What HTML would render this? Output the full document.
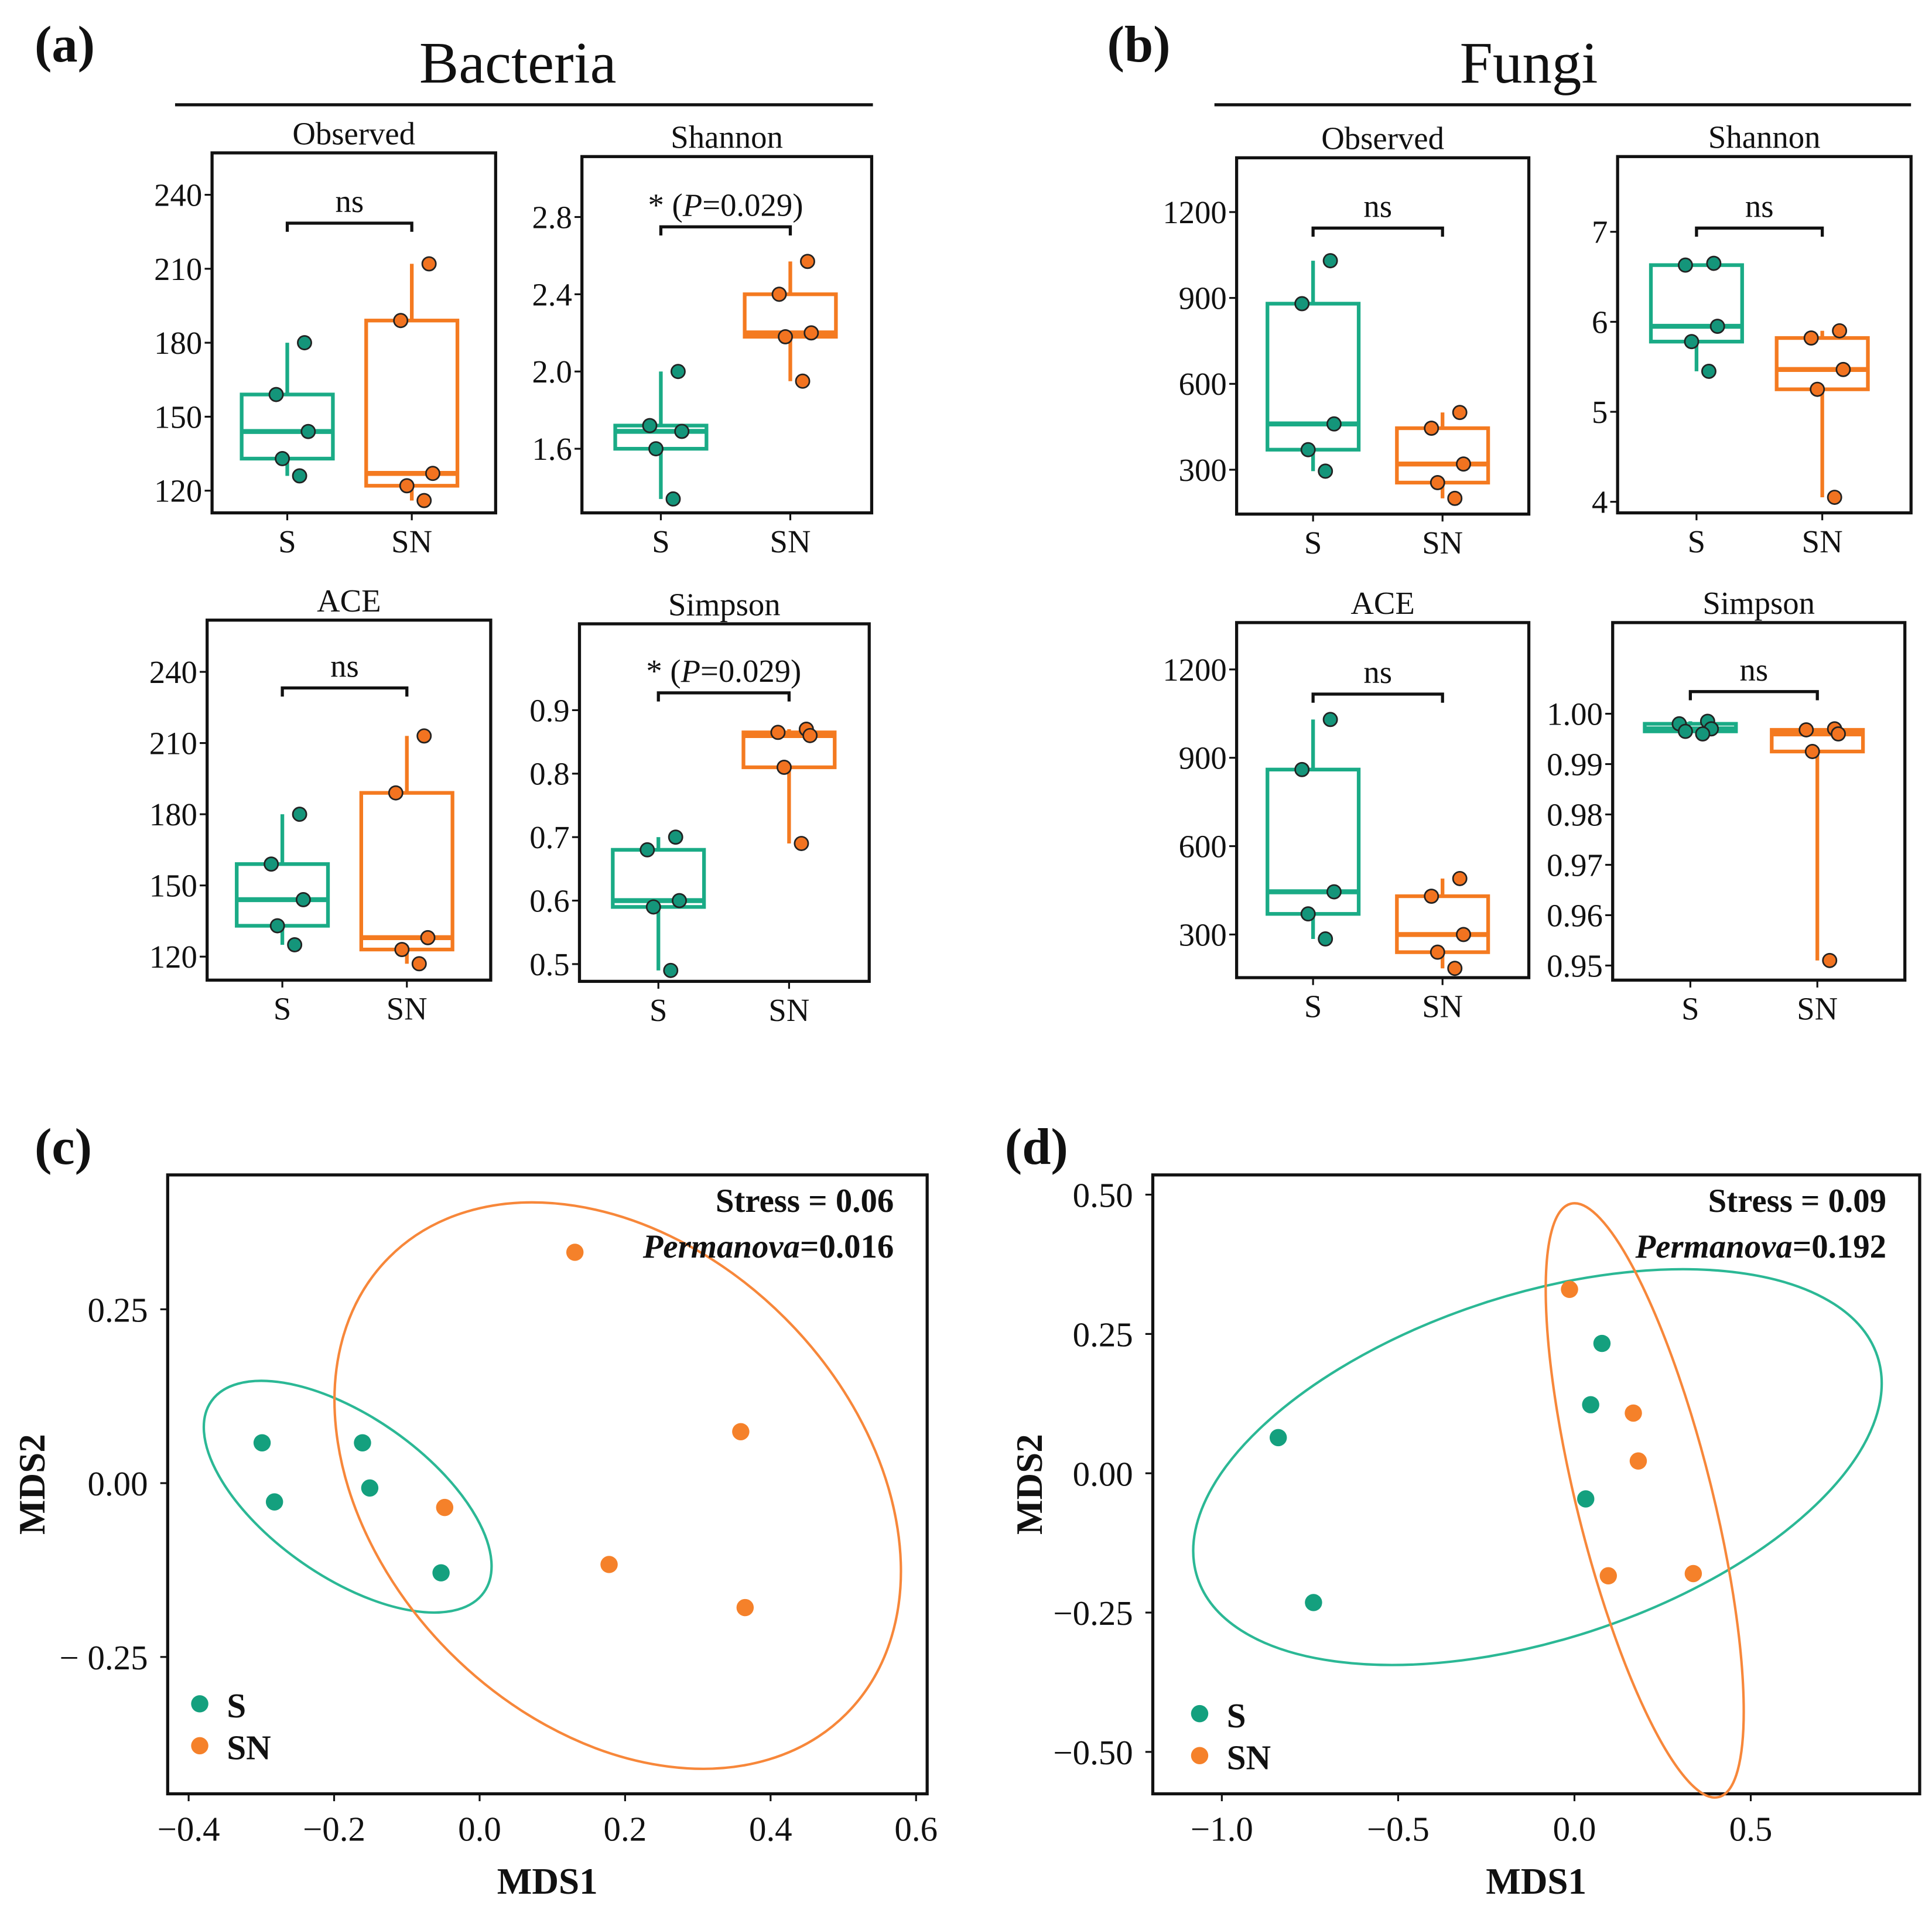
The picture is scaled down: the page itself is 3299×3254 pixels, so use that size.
<!DOCTYPE html>
<html><head><meta charset="utf-8"><style>
html,body{margin:0;padding:0;background:#fff}
svg{display:block}
text{font-family:"Liberation Serif",serif;fill:#111}
</style></head><body>
<svg id="fig" xmlns="http://www.w3.org/2000/svg" width="3299" height="3254" viewBox="0 0 1567 1546" preserveAspectRatio="none">
<rect width="1567" height="1546" fill="#fff"/>
<text x="28" y="50" font-size="42" font-weight="bold">(a)</text>
<text x="420" y="67" font-size="48" text-anchor="middle">Bacteria</text>
<line x1="142" y1="85" x2="708" y2="85" stroke="#111" stroke-width="2.5"/>
<text x="898" y="50" font-size="42" font-weight="bold">(b)</text>
<text x="1240" y="67" font-size="48" text-anchor="middle">Fungi</text>
<line x1="985" y1="85" x2="1550" y2="85" stroke="#111" stroke-width="2.5"/>
<text x="28" y="944" font-size="42" font-weight="bold">(c)</text>
<text x="815" y="944" font-size="42" font-weight="bold">(d)</text>
</svg>
<script>
const NS='http://www.w3.org/2000/svg';
const svg=document.getElementById('fig');
const TEAL='#1aab86', TEALF='#14957a', ORG='#f47a20', ORGF='#f27320';

// ---- data: boxplots ----
const groups=['S','SN'];
const bacObsS=[180,159,144,133,126], bacObsSN=[212,189,127,122,116];
const bacShaS=[2.0,1.72,1.69,1.6,1.34], bacShaSN=[2.57,2.4,2.2,2.18,1.95];
const bacAceS=[180,159,144,133,125], bacAceSN=[213,189,128,123,117];
const bacSimS=[0.70,0.68,0.60,0.59,0.49], bacSimSN=[0.87,0.865,0.86,0.81,0.69];
const funObsS=[1030,880,460,370,295], funObsSN=[500,445,320,255,200];
const funShaS=[6.65,6.63,5.95,5.78,5.45], funShaSN=[5.9,5.82,5.47,5.25,4.05];
const funAceS=[1030,860,445,370,285], funAceSN=[490,430,300,240,185];
const funSimS=[0.9985,0.998,0.997,0.9965,0.996], funSimSN=[0.997,0.9968,0.996,0.9925,0.951];
const ticksCount=[120,150,180,210,240], ticksSha=[1.6,2.0,2.4,2.8], ticksSim=[0.5,0.6,0.7,0.8,0.9];
const ticksFunObs=[300,600,900,1200], ticksFunSha=[4,5,6,7], ticksFunSim=[0.95,0.96,0.97,0.98,0.99,1.00];
const labFunSim=['0.95','0.96','0.97','0.98','0.99','1.00'];

// ---- data: NMDS ----
const nmdsCS_x=[-0.299,-0.282,-0.161,-0.151,-0.053], nmdsCS_y=[0.058,-0.027,0.058,-0.007,-0.129];
const nmdsCSN_x=[0.131,0.359,-0.048,0.178,0.365], nmdsCSN_y=[0.332,0.074,-0.035,-0.117,-0.179];
const nmdsDS_x=[-0.84,-0.74,0.078,0.046,0.032], nmdsDS_y=[0.064,-0.232,0.233,0.123,-0.046];
const nmdsDSN_x=[-0.014,0.167,0.181,0.096,0.337], nmdsDSN_y=[0.33,0.108,0.022,-0.184,-0.18];
const cTicksX=[-0.4,-0.2,0.0,0.2,0.4,0.6], cLabX=['\u22120.4','\u22120.2','0.0','0.2','0.4','0.6'];
const cTicksY=[-0.25,0,0.25], cLabY=['\u2212 0.25','0.00','0.25'];
const dTicksX=[-1,-0.5,0,0.5], dLabX=['\u22121.0','\u22120.5','0.0','0.5'];
const dTicksY=[-0.5,-0.25,0,0.25,0.5], dLabY=['\u22120.50','\u22120.25','0.00','0.25','0.50'];

function el(tag,attrs,parent){const e=document.createElementNS(NS,tag);for(const k in attrs)e.setAttribute(k,attrs[k]);(parent||svg).appendChild(e);return e;}
function txt(x,y,s,size,extra,parent){const t=el('text',Object.assign({x:x,y:y,'font-size':size},extra||{}),parent);t.textContent=s;return t;}
function q(a,p){const s=[...a].sort((m,n)=>m-n);const h=(s.length-1)*p;const l=Math.floor(h);return s[l]+(s[Math.min(l+1,s.length-1)]-s[l])*(h-l);}
const jit=[14,-9,17,-4,10];

function boxPanel(o){
  const g=el('g',{});
  
  
  const Y=v=>o.y1-(v-o.lo)/(o.hi-o.lo)*(o.y1-o.y0);
  const fr=el('rect',{x:o.x0,y:o.y0,width:o.x1-o.x0,height:o.y1-o.y0,fill:'none',stroke:'#111','stroke-width':2.5},g);
  
  
  const tt=txt((o.x0+o.x1)/2,o.y0-7,o.title,26,{'text-anchor':'middle'},g);
  
  
  o.ticks.forEach((v,i)=>{
    const y=Y(v);
    el('line',{x1:o.x0-6,y1:y,x2:o.x0,y2:y,stroke:'#111','stroke-width':1.5},g);
    const t=txt(o.x0-8,y+9,o.labels?o.labels[i]:String(v),26,{'text-anchor':'end'},g);
    
    
  });
  const xs=[o.xS,o.xSN];
  groups.forEach((gn,i)=>{
    el('line',{x1:xs[i],y1:o.y1,x2:xs[i],y2:o.y1+6,stroke:'#111','stroke-width':1.5},g);
    const t=txt(xs[i],o.y1+32,gn,26,{'text-anchor':'middle'},g);
    
    
  });
  [o.S,o.SN].forEach((d,i)=>{
    const c=i?ORG:TEAL, f=i?ORGF:TEALF, x=xs[i], hw=37;
    const q1=q(d,.25),md=q(d,.5),q3=q(d,.75);
    const bx=el('g',{},g);
    
    
    el('line',{x1:x,y1:Y(Math.max(...d)),x2:x,y2:Y(q3),stroke:c,'stroke-width':3},bx);
    el('line',{x1:x,y1:Y(q1),x2:x,y2:Y(Math.min(...d)),stroke:c,'stroke-width':3},bx);
    el('rect',{x:x-hw,y:Y(q3),width:2*hw,height:Y(q1)-Y(q3),fill:'#fff',stroke:c,'stroke-width':3},bx);
    el('line',{x1:x-hw,y1:Y(md),x2:x+hw,y2:Y(md),stroke:c,'stroke-width':4},bx);
    d.forEach((v,k)=>{
      const p=el('circle',{cx:x+jit[k],cy:Y(v),r:5.5,fill:f,stroke:'#222','stroke-width':1.3},g);
      
      
    });
  });
  el('path',{d:`M${o.xS} ${o.by+7}V${o.by}H${o.xSN}V${o.by+7}`,fill:'none',stroke:'#111','stroke-width':2.5},g);
  const st=el('text',{x:(o.xS+o.xSN)/2,y:o.by-9,'font-size':26,'text-anchor':'middle'},g);
  
  
  if(o.sig==='ns'){st.textContent='ns';}
  else{st.innerHTML='* (<tspan font-style="italic">P</tspan>=0.029)';}
}

boxPanel({name:'bacteria-observed',x0:172,y0:124,x1:402,y1:416,lo:111,hi:257,ticks:ticksCount,S:bacObsS,SN:bacObsSN,title:'Observed',xS:233,xSN:334,by:181,sig:'ns'});
boxPanel({name:'bacteria-shannon',x0:472,y0:127,x1:707,y1:416,lo:1.268,hi:3.113,ticks:ticksSha,labels:['1.6','2.0','2.4','2.8'],S:bacShaS,SN:bacShaSN,title:'Shannon',xS:536,xSN:641,by:184,sig:'p'});
boxPanel({name:'bacteria-ace',x0:168,y0:503,x1:398,y1:795,lo:110.1,hi:261.8,ticks:ticksCount,S:bacAceS,SN:bacAceSN,title:'ACE',xS:229,xSN:330,by:558,sig:'ns'});
boxPanel({name:'bacteria-simpson',x0:470,y0:506,x1:705,y1:796,lo:0.4728,hi:1.036,ticks:ticksSim,S:bacSimS,SN:bacSimSN,title:'Simpson',xS:534,xSN:640,by:562,sig:'p'});
boxPanel({name:'fungi-observed',x0:1003,y0:128,x1:1240,y1:417,lo:145,hi:1389.5,ticks:ticksFunObs,S:funObsS,SN:funObsSN,title:'Observed',xS:1065,xSN:1170,by:185,sig:'ns'});
boxPanel({name:'fungi-shannon',x0:1312,y0:127,x1:1550,y1:416,lo:3.877,hi:7.836,ticks:ticksFunSha,S:funShaS,SN:funShaSN,title:'Shannon',xS:1376,xSN:1478,by:185,sig:'ns'});
boxPanel({name:'fungi-ace',x0:1003,y0:505,x1:1240,y1:793,lo:153.5,hi:1359,ticks:ticksFunObs,S:funAceS,SN:funAceSN,title:'ACE',xS:1065,xSN:1170,by:563,sig:'ns'});
boxPanel({name:'fungi-simpson',x0:1308,y0:505,x1:1545,y1:795,lo:0.9471,hi:1.0181,ticks:ticksFunSim,labels:labFunSim,S:funSimS,SN:funSimSN,title:'Simpson',xS:1371,xSN:1474,by:561,sig:'ns'});

function nmds(o){
  const g=el('g',{});
  
  
  const X=v=>o.px0+(v-o.dx0)/(o.dx1-o.dx0)*(o.px1-o.px0);
  const Y=v=>o.py0+(v-o.dy0)/(o.dy1-o.dy0)*(o.py1-o.py0);
  const fr=el('rect',{x:o.x0,y:o.y0,width:o.x1-o.x0,height:o.y1-o.y0,fill:'none',stroke:'#111','stroke-width':2.5},g);
  
  
  o.tx.forEach((v,i)=>{const x=X(v);el('line',{x1:x,y1:o.y1,x2:x,y2:o.y1+6,stroke:'#111','stroke-width':1.5},g);
    const t=txt(x,o.y1+38,o.lx[i],28,{'text-anchor':'middle'},g);
    
    });
  o.ty.forEach((v,i)=>{const y=Y(v);el('line',{x1:o.x0-6,y1:y,x2:o.x0,y2:y,stroke:'#111','stroke-width':1.5},g);
    const t=txt(o.x0-16,y+10,o.ly[i],28,{'text-anchor':'end'},g);
    
    });
  const xt=txt((o.x0+o.x1)/2,1536,'MDS1',30,{'text-anchor':'middle','font-weight':'bold'},g);
  
  
  const yt=txt(0,0,'MDS2',30,{'text-anchor':'middle','font-weight':'bold',transform:`translate(${o.ytx},${(o.y0+o.y1)/2}) rotate(-90)`},g);
  
  
  o.ell.forEach((e,i)=>{const p=el('ellipse',{cx:e[0],cy:e[1],rx:e[2],ry:e[3],transform:`rotate(${e[4]} ${e[0]} ${e[1]})`,fill:'none',stroke:i?'#f7873a':'#2bb895','stroke-width':2},g);
    
    });
  [[o.sx,o.sy],[o.nx,o.ny]].forEach((d,i)=>{d[0].forEach((v,k)=>{
    const p=el('circle',{cx:X(v),cy:Y(d[1][k]),r:7,fill:i?'#f5812a':'#14a07e'},g);
    
    });});
  const s1=txt(o.x1-27,983,o.stress,27,{'text-anchor':'end','font-weight':'bold'},g);
  
  
  const s2=el('text',{x:o.x1-27,y:1020,'font-size':27,'text-anchor':'end','font-weight':'bold'},g);
  s2.innerHTML='<tspan font-style="italic">Permanova</tspan>='+o.perm;
  
  
  groups.forEach((gn,i)=>{const ly=o.legY+i*34;
    const c=el('circle',{cx:o.legX,cy:ly,r:7,fill:i?'#f5812a':'#14a07e'},g);
    
    
    const t=txt(o.legX+22,ly+11,gn,28,{'font-weight':'bold'},g);
    
    });
}
nmds({name:'nmds-bacteria',x0:136,y0:953,x1:752,y1:1455,px0:389,px1:507,dx0:0,dx1:0.2,py0:1203,py1:1062,dy0:0,dy1:0.25,
  tx:cTicksX,lx:cLabX,ty:cTicksY,ly:cLabY,sx:nmdsCS_x,sy:nmdsCS_y,nx:nmdsCSN_x,ny:nmdsCSN_y,
  ell:[[282,1214,135,65,35],[501,1205,262,192,45]],stress:'Stress = 0.06',perm:'0.016',legX:162,legY:1382,ytx:36});
nmds({name:'nmds-fungi',x0:935,y0:953,x1:1557,y1:1455,px0:1277,px1:1420,dx0:0,dx1:0.5,py0:1195,py1:1082,dy0:0,dy1:0.25,
  tx:dTicksX,lx:dLabX,ty:dTicksY,ly:dLabY,sx:nmdsDS_x,sy:nmdsDS_y,nx:nmdsDSN_x,ny:nmdsDSN_y,
  ell:[[1247,1190,290,140,-18],[1334,1217,55,248,-14]],stress:'Stress = 0.09',perm:'0.192',legX:973,legY:1390,ytx:845});
</script>
</body></html>
